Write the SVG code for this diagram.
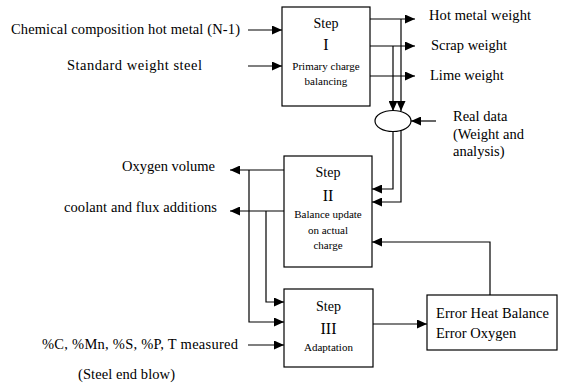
<svg xmlns="http://www.w3.org/2000/svg" width="561" height="383" viewBox="0 0 561 383">
<defs>
<marker id="ah" markerWidth="10" markerHeight="9" refX="10" refY="4.5" orient="auto" markerUnits="userSpaceOnUse">
<path d="M0,0 L10,4.5 L0,9 Z" fill="#000"/>
</marker>
<style>
.box{fill:#fff;stroke:#000;stroke-width:1.2}
.c{fill:none;stroke:#000;stroke-width:1.2}
.a{marker-end:url(#ah)}
text{font-family:"Liberation Serif","Times New Roman",serif;fill:#000}
.t{font-size:14.5px}
.s{font-size:11px}
.st{font-size:14px}
.n{font-size:16px}
</style>
</defs>
<rect width="561" height="383" fill="#fff"/>
<g id="connectors">
<path class="c a" d="M248,30 H282"/>
<path class="c a" d="M248,66 H282"/>
<path class="c a" d="M370,19 H415"/>
<path class="c a" d="M370,46 H415"/>
<path class="c a" d="M370,76 H415"/>
<path class="c a" d="M401,19 V111"/>
<path class="c a" d="M393,46 V111"/>
<path class="c a" d="M436,121 H411"/>
<path class="c a" d="M393,132 V189 H372"/>
<path class="c a" d="M401,130 V202 H372"/>
<path class="c a" d="M284,170 H230"/>
<path class="c a" d="M284,211 H230"/>
<path class="c a" d="M249,170 V322 H284"/>
<path class="c a" d="M266,211 V302 H284"/>
<path class="c a" d="M248,345 H284"/>
<path class="c a" d="M373,324 H427"/>
<path class="c a" d="M490,295 V242 H372"/>
</g>
<g id="step1" font-family="Liberation Serif, serif">
<rect class="box" x="282" y="7" width="88" height="99"/>
<text class="st" x="326" y="28" text-anchor="middle">Step</text>
<text class="n" x="326" y="50" text-anchor="middle">I</text>
<text class="s" x="326" y="70" text-anchor="middle">Primary charge</text>
<text class="s" x="326" y="85" text-anchor="middle">balancing</text>
</g>
<g id="merge">
<ellipse class="box" cx="393" cy="121" rx="18" ry="10.5"/>
</g>
<g id="step2" font-family="Liberation Serif, serif">
<rect class="box" x="284" y="156" width="88" height="111"/>
<text class="st" x="328" y="177" text-anchor="middle">Step</text>
<text class="n" x="328" y="201" text-anchor="middle">II</text>
<text class="s" x="328" y="218" text-anchor="middle">Balance update</text>
<text class="s" x="328" y="234" text-anchor="middle">on actual</text>
<text class="s" x="328" y="249" text-anchor="middle">charge</text>
</g>
<g id="step3" font-family="Liberation Serif, serif">
<rect class="box" x="284" y="289" width="89" height="78"/>
<text class="st" x="328.5" y="311" text-anchor="middle">Step</text>
<text class="n" x="328.5" y="334" text-anchor="middle">III</text>
<text class="s" x="328.5" y="351" text-anchor="middle">Adaptation</text>
</g>
<g id="error" font-family="Liberation Serif, serif">
<rect class="box" x="427" y="295" width="130" height="55"/>
<text class="t" x="436" y="318" textLength="113" lengthAdjust="spacing">Error Heat Balance</text>
<text class="t" x="436" y="338">Error Oxygen</text>
</g>
<g id="labels" font-family="Liberation Serif, serif">
<text class="t" x="11" y="34" textLength="229" lengthAdjust="spacing">Chemical composition hot metal (N-1)</text>
<text class="t" x="67" y="70" textLength="135" lengthAdjust="spacing">Standard weight steel</text>
<text class="t" x="429" y="20" textLength="102" lengthAdjust="spacing">Hot metal weight</text>
<text class="t" x="431" y="50">Scrap weight</text>
<text class="t" x="430" y="80">Lime weight</text>
<text class="t" x="453" y="121">Real data</text>
<text class="t" x="453" y="139">(Weight and</text>
<text class="t" x="453" y="156">analysis)</text>
<text class="t" x="122" y="171" textLength="93" lengthAdjust="spacing">Oxygen volume</text>
<text class="t" x="64" y="212" textLength="153" lengthAdjust="spacing">coolant and flux additions</text>
<text class="t" x="42" y="349" textLength="196" lengthAdjust="spacing">%C, %Mn, %S, %P, T measured</text>
<text class="t" x="78" y="379" textLength="97" lengthAdjust="spacing">(Steel end blow)</text>
</g>
</svg>
